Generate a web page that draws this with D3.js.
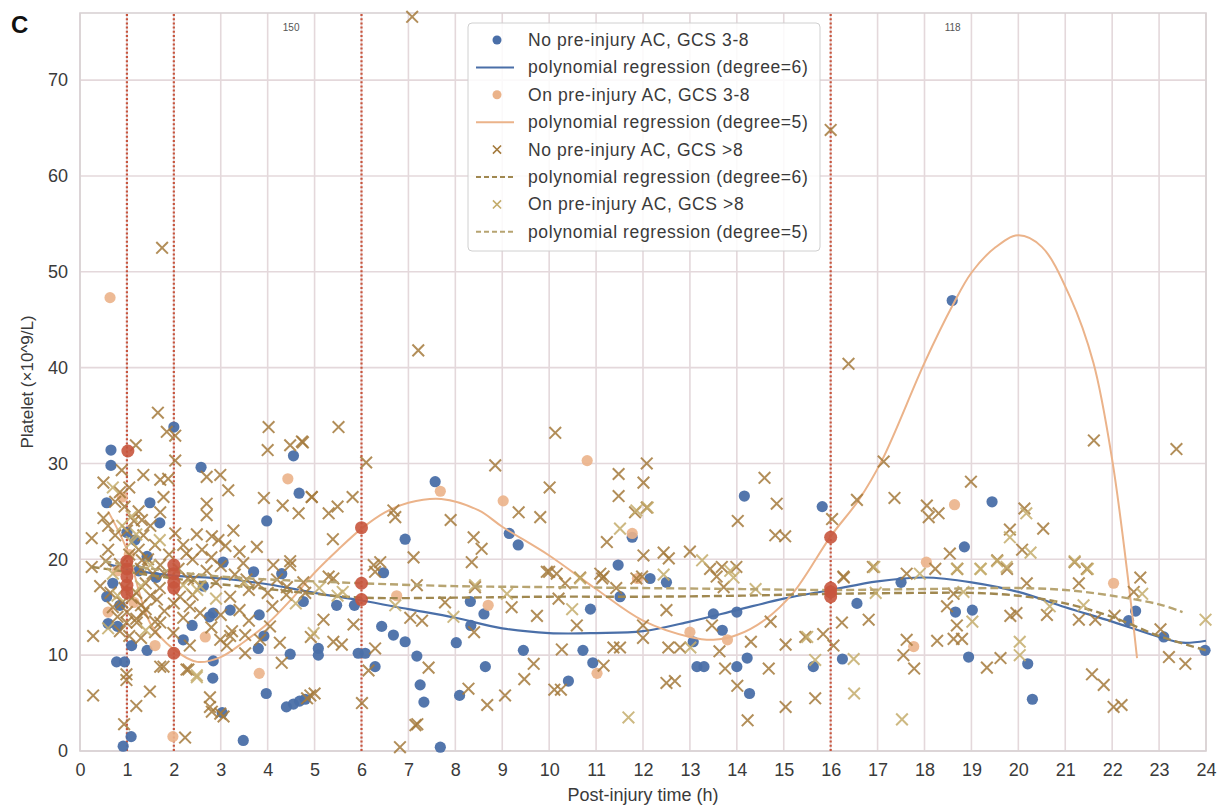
<!DOCTYPE html>
<html>
<head>
<meta charset="utf-8">
<script src="https://cdn.jsdelivr.net/npm/d3@7"></script>
<style>
  body { margin: 0; background: #fff; }
  svg { font-family: "Liberation Sans", Arial, sans-serif; }
</style>
</head>
<body>
<div id="chart"></div>
<script>
// --- data ---
const xTicks = d3.range(0, 25);
const yTicks = [0, 10, 20, 30, 40, 50, 60, 70];
const markerHours = [1, 2, 6, 16];
const countLabels = [{ x: 4.5, text: '150' }, { x: 18.6, text: '118' }];

const legendLabels = [
  'No pre-injury AC, GCS 3-8',
  'polynomial regression (degree=6)',
  'On pre-injury AC, GCS 3-8',
  'polynomial regression (degree=5)',
  'No pre-injury AC, GCS >8',
  'polynomial regression (degree=6)',
  'On pre-injury AC, GCS >8',
  'polynomial regression (degree=5)'
];

// No pre-injury AC, GCS 3-8
const noAcSevere = [
  [0.66,31.4],[0.66,29.8],[0.57,25.9],[1.49,25.9],[2.0,33.8],[2.58,29.6],[4.55,30.8],[4.67,26.9],[3.98,24.0],
  [0.57,16.1],[0.6,13.3],[0.8,13.0],[0.78,9.3],[0.95,9.3],[1.1,11.0],[1.43,10.5],[1.09,1.5],[0.92,0.5],
  [1.62,18.1],[1.43,20.3],[1.17,22.0],[1.7,23.8],[1.0,22.8],[0.7,17.5],[0.85,15.2],[1.25,18.8],
  [2.63,17.2],[3.05,19.7],[2.84,14.4],[2.76,14.0],[3.2,14.7],[2.39,13.1],[2.2,11.6],[2.84,9.4],[2.83,7.6],
  [3.03,4.0],[3.48,1.1],[3.7,18.7],[4.3,18.5],[3.82,14.2],[3.92,12.0],[3.8,10.7],[3.97,6.0],[4.48,10.1],
  [4.4,4.6],[4.55,4.9],[4.68,5.2],[4.8,5.4],[5.08,10.7],[5.08,10.0],[5.47,15.2],[5.85,15.2],[5.93,10.2],
  [6.08,10.2],[6.29,8.8],[6.43,13.0],[6.68,12.1],[6.93,11.4],[6.47,18.6],[4.76,15.6],[7.18,9.9],[7.25,6.9],
  [7.33,5.1],[7.68,0.4],[8.02,11.3],[8.09,5.8],[8.32,15.6],[8.33,13.1],[8.61,14.3],[8.64,8.8],[9.45,10.5],
  [10.41,7.3],[10.72,10.5],[10.88,14.8],[10.93,9.2],[11.47,19.4],[11.51,16.1],[12.15,18.0],[12.5,17.6],
  [13.07,11.4],[13.15,8.8],[13.3,8.8],[13.5,14.3],[13.69,12.6],[14.0,14.5],[14.0,8.8],[14.22,9.7],[14.27,6.0],
  [15.63,8.8],[7.57,28.1],[6.93,22.1],[9.15,22.7],[9.34,21.5],[11.77,22.3],[14.16,26.6],[15.82,25.5],
  [18.59,47.0],[19.44,26.0],[18.85,21.3],[17.5,17.6],[16.25,9.6],[16.56,15.4],[18.66,14.5],[19.02,14.7],
  [18.94,9.8],[20.2,9.1],[20.3,5.4],[22.35,13.6],[22.5,14.6],[23.1,11.9],[23.98,10.5]
];

// On pre-injury AC, GCS 3-8
const onAcSevere = [
  [0.64,47.3],[4.43,28.4],[2.67,11.9],[1.6,11.0],[3.82,8.1],[1.98,1.5],[0.6,14.5],[7.68,27.1],[9.02,26.1],
  [10.81,30.3],[11.77,22.7],[11.88,18.0],[6.75,16.2],[8.7,15.2],[11.02,8.1],[13.8,11.6],[13.0,12.4],
  [18.64,25.7],[18.04,19.7],[22.03,17.5],[17.77,10.9],[0.9,26.5],[1.05,20.5],[0.8,18.8],[1.15,15.5]
];

// No pre-injury AC, GCS >8
const noAcMild = [
  [1.66,35.3],[1.85,33.3],[2.03,32.9],[1.19,31.9],[1.35,28.8],[0.5,28.0],[0.89,29.3],[1.71,28.3],[1.88,28.4],
  [2.03,30.3],[2.7,28.6],[2.99,28.8],[3.16,27.2],[2.7,25.8],[2.7,24.6],[4.02,33.8],[4.0,31.4],[4.48,31.9],
  [4.73,32.3],[3.92,26.4],[4.32,25.6],[4.66,24.8],[4.94,26.5],[3.77,21.3],[3.27,23.0],[2.49,22.6],[2.81,22.4],
  [2.95,22.0],[2.03,22.7],[0.25,22.2],[0.5,24.3],[1.32,24.1],[1.71,24.9],[1.78,26.5],[0.25,19.2],[1.32,19.9],
  [1.71,19.4],[2.27,20.6],[3.48,19.6],[3.55,17.9],[4.12,19.4],[4.48,19.8],[4.41,17.1],[4.0,16.5],[2.42,17.9],
  [2.13,16.1],[2.34,15.1],[2.56,14.4],[1.64,15.8],[1.35,14.4],[1.21,13.4],[0.43,17.2],[0.28,12.0],[0.99,13.4],
  [1.71,13.4],[1.99,12.3],[2.34,11.0],[2.99,11.6],[3.2,12.0],[3.52,12.1],[4.05,13.0],[4.26,11.3],[4.3,9.2],
  [3.84,11.6],[3.13,11.0],[1.71,8.8],[2.27,8.5],[2.77,5.6],[2.77,4.6],[2.99,3.9],[0.99,8.0],[0.99,7.4],
  [1.49,6.2],[1.2,4.7],[0.94,2.8],[0.28,5.8],[2.24,1.4],[5.0,6.0],[4.84,5.5],[4.92,11.9],[1.75,52.5],
  [0.6,21.0],[0.75,22.5],[0.85,19.5],[0.95,17.0],[1.0,23.0],[1.05,20.5],[1.15,24.0],[1.2,16.5],[1.25,21.0],
  [1.3,19.0],[1.35,22.5],[1.4,17.5],[1.45,20.0],[1.5,23.5],[1.55,18.5],[1.6,21.5],[0.65,16.5],[0.7,15.0],
  [0.8,14.0],[0.9,15.5],[1.0,14.5],[1.1,16.0],[1.2,13.8],[1.3,15.2],[1.4,14.8],[1.5,16.2],[1.6,13.5],
  [1.7,17.0],[1.8,18.5],[1.9,20.5],[2.1,19.0],[2.2,21.5],[2.3,18.0],[2.4,20.0],[2.6,21.0],[2.7,18.8],
  [2.8,20.2],[2.9,17.6],[3.0,19.3],[3.1,21.4],[3.3,18.4],[3.4,20.8],[3.6,16.8],[0.55,19.8],[0.6,23.5],
  [0.75,26.0],[0.85,27.0],[0.95,25.5],[1.05,27.5],[1.25,25.0],[0.85,12.5],[1.05,12.0],[1.3,11.8],
  [1.6,12.4],[1.8,14.6],[2.0,15.4],[2.2,13.9],[2.4,16.3],[2.8,12.9],[3.0,14.2],[3.2,16.1],[3.4,14.7],
  [3.6,13.6],[3.8,17.4],[4.1,15.1],[4.2,17.9],[4.4,16.3],
  [7.21,41.8],[4.75,32.2],[5.51,33.8],[6.1,30.1],[4.94,26.5],[5.3,24.8],[5.49,25.5],[5.81,26.5],[5.39,22.1],
  [6.68,25.1],[6.72,24.4],[7.9,24.1],[8.85,29.8],[8.39,22.3],[8.56,21.1],[8.35,19.7],[9.35,24.9],[9.81,24.4],
  [10.13,33.2],[10.01,27.5],[9.95,18.7],[10.16,18.5],[10.34,17.5],[11.23,21.8],[11.48,28.9],[11.48,26.6],
  [12.08,30.0],[12.01,28.0],[12.08,25.4],[11.83,24.9],[12.01,20.4],[6.26,19.4],[6.4,19.7],[7.11,20.2],
  [7.18,17.3],[8.42,17.1],[11.13,18.0],[5.4,18.0],[4.76,17.6],
  [14.59,28.5],[14.85,25.8],[14.02,24.0],[14.82,22.5],[15.03,22.4],[16.03,24.2],[12.44,20.7],[12.55,20.1],
  [13.0,20.8],[13.43,19.0],[13.68,19.2],[13.99,19.2],[13.57,18.2],[11.16,18.2],[11.98,18.2],[13.72,17.1],
  [7.04,13.9],[7.29,13.6],[7.43,8.7],[7.19,2.8],[6.82,0.4],[7.78,15.5],[8.28,6.5],[8.68,4.8],[9.06,5.8],
  [8.4,12.4],[9.2,15.0],[9.74,14.1],[9.67,9.1],[9.47,7.5],[10.0,18.7],[10.2,15.9],[10.59,13.1],[10.66,18.1],
  [10.27,10.6],[10.11,6.4],[10.25,6.4],[11.09,18.5],[11.16,8.9],[11.43,17.0],[11.37,10.8],[11.51,10.8],
  [11.86,18.0],[12.0,13.1],[12.0,11.8],[12.5,14.7],[12.54,10.8],[12.79,10.8],[12.5,7.1],[12.68,7.3],
  [13.47,13.1],[13.63,10.4],[13.75,8.6],[14.01,6.8],[14.23,3.2],[14.3,11.4],[14.68,8.6],[14.72,13.5],
  [15.04,11.1],[15.04,4.6],[15.46,11.9],[15.67,5.5],
  [15.84,12.2],[16.06,11.0],[16.24,13.4],[16.28,18.1],[16.81,13.7],[16.9,19.2],[17.55,10.0],[17.62,11.6],
  [17.78,8.6],[17.62,18.5],[18.23,19.0],[18.27,11.5],[18.48,15.1],[18.69,13.1],[18.62,11.7],[18.8,11.7],
  [18.62,16.4],[19.33,8.7],[19.62,9.7],[19.76,19.0],[19.83,14.1],[19.96,14.4],[20.18,17.5],[20.61,14.2],
  [21.46,19.0],[21.29,17.5],[21.29,13.7],[21.64,13.7],[21.57,8.0],[21.82,6.9],[22.03,4.6],[22.2,4.8],
  [22.05,14.1],[22.6,18.1],[22.46,16.6],[23.03,12.7],[23.21,9.8],[23.56,9.1],
  [16.38,40.4],[17.13,30.2],[16.56,26.2],[17.36,26.4],[18.99,28.1],[18.05,25.6],[18.09,24.4],[18.3,24.8],
  [20.13,25.3],[20.53,23.2],[19.82,23.1],[20.08,21.0],[18.54,20.6],[19.55,19.9],[18.7,19.0],[21.2,19.7],
  [21.61,32.4],[23.37,31.5],[16.27,18.2],[16.0,64.8],[7.08,76.6],[6.29,18.7],[5.3,18.2],[4.8,16.5],
  [4.48,19.4],[5.19,13.7],[5.4,11.4],[5.58,11.1],[5.83,13.2],[6.29,10.7],[6.15,8.4],[6.01,5.0],[7.15,2.7],
  [4.91,5.8],[3.24,12.5],[3.52,10.2],[1.78,8.8],[2.31,8.5],[3.06,3.6],[2.81,4.1]
];

// On pre-injury AC, GCS >8
const onAcMild = [
  [0.7,18.5],[0.9,23.5],[1.1,21.8],[1.3,17.2],[1.5,19.4],[1.7,22.0],[0.8,16.2],[1.0,19.2],[1.2,22.6],
  [2.2,17.3],[2.5,16.8],[2.9,15.9],[3.5,17.6],[0.6,12.8],[1.4,12.6],[2.49,7.7],[1.1,24.5],[0.7,27.5],
  [4.6,15.4],[5.1,17.0],[5.6,16.6],[2.56,17.2],[2.49,7.9],[4.98,12.3],[5.49,16.2],[11.69,3.5],[11.51,23.2],
  [12.1,25.4],[11.86,25.1],[13.26,19.9],[13.86,18.8],[13.93,18.1],[12.44,18.4],[10.49,14.8],[10.66,18.0],
  [13.01,10.8],[15.67,9.5],[15.5,11.9],[16.49,9.6],[16.5,6.0],[16.96,16.5],[17.52,3.3],[17.9,18.5],
  [18.69,19.0],[18.83,16.6],[19.02,13.5],[19.19,19.0],[19.55,19.8],[20.03,11.4],[20.03,10.0],[20.67,15.1],
  [21.2,19.8],[21.39,15.2],[21.48,19.0],[22.64,16.4],[23.99,13.7],[19.82,22.3],[20.17,24.8],[20.26,20.7],
  [19.75,19.2],[19.2,19.0],[16.93,19.2],[7.96,14.0],[8.42,17.3],[6.72,15.2],[9.1,16.4],[14.4,16.9]
];

// reference-hour markers (red)
const hourMarkers = [
  [1.02,31.3],[1,19.8],[1,19.0],[1,18.2],[1,17.3],[1,16.5],
  [2,19.4],[2,18.5],[2,17.6],[2,17.0],[2,10.2],
  [6,23.3],[6,17.5],[6,15.8],
  [16,22.3],[16,17.0],[16,16.6],[16,16.1]
];

// regression curves, sampled from the figure
const fitNoAcSevere = [
  [0.6,19.5],[1,19.0],[2,18.3],[3,18.0],[4,17.4],[5,16.5],[6,15.7],[7,14.8],[8,13.9],[9,12.8],[10,12.3],
  [11,12.3],[12,12.5],[13,13.5],[14,14.7],[15,15.9],[16,16.8],[17,17.7],[18,18.1],[19,17.6],[20,16.6],
  [21,15.0],[22,13.5],[23,11.9],[23.5,11.3],[24,11.5]
];
const fitOnAcSevere = [
  [0.6,25.0],[1,21.0],[1.5,13.3],[2,10.6],[2.5,9.3],[3,9.8],[3.5,11.4],[4,13.3],[4.5,15.8],[5,18.6],
  [5.5,21.0],[6,23.2],[6.5,24.9],[7,25.9],[7.7,26.3],[8.5,25.1],[9,23.4],[10,20.4],[11,16.9],[12,13.6],
  [13,11.9],[13.5,11.6],[14,12.1],[14.6,13.7],[15.2,16.5],[16,22.4],[16.6,26.2],[17.1,30.4],[18,40.5],
  [18.6,46.5],[19,49.9],[19.5,52.5],[20,53.8],[20.5,52.6],[21.1,47.4],[21.6,40.5],[22,30.4],[22.35,17.5],
  [22.53,9.7]
];
const fitNoAcMild = [
  [0.25,19.2],[1,18.7],[2,18.0],[3,17.4],[4,16.9],[5,16.4],[6,16.0],[8,16.0],[10,16.1],[12,16.1],
  [14,16.2],[16,16.4],[18,16.5],[19,16.5],[20,16.2],[21,15.4],[22,14.0],[22.5,13.0],[23,12.0],[24,10.5]
];
const fitOnAcMild = [
  [0.5,19.8],[1,19.4],[2,18.7],[3,18.2],[4,17.9],[5,17.7],[6,17.5],[8,17.2],[10,17.1],[12,17.0],[14,16.9],
  [16,16.8],[18,16.9],[20,17.0],[21,16.8],[22,16.2],[23,15.3],[23.5,14.5]
];

// --- drawing ---
const colors = {
  blue: '#4a6fa8',
  orange: '#ebb38a',
  brownX: '#a47a3c',
  khakiX: '#c4ad6c',
  dashA: '#a08850',
  dashB: '#b7a471',
  red: '#c8553d',
  grid: '#e4d8db',
  text: '#3a3a3a'
};

const width = 1225;
const height = 805;
const margin = { top: 13, right: 19, bottom: 54, left: 80 };

const svg = d3.select('#chart')
  .append('svg')
  .attr('width', width)
  .attr('height', height);

const x = d3.scaleLinear()
  .domain([0, 24])
  .range([margin.left, width - margin.right]);

const y = d3.scaleLinear()
  .domain([0, 77])
  .range([height - margin.bottom, margin.top]);

// grid
svg.append('g')
  .selectAll('line')
  .data(xTicks)
  .join('line')
    .attr('x1', d => x(d)).attr('x2', d => x(d))
    .attr('y1', y(0)).attr('y2', y(77))
    .attr('stroke', colors.grid)
    .attr('stroke-width', 1.6);

svg.append('g')
  .selectAll('line')
  .data(yTicks)
  .join('line')
    .attr('x1', x(0)).attr('x2', x(24))
    .attr('y1', d => y(d)).attr('y2', d => y(d))
    .attr('stroke', colors.grid)
    .attr('stroke-width', 1.6);

svg.append('rect')
  .attr('x', x(0)).attr('y', y(77))
  .attr('width', x(24) - x(0)).attr('height', y(0) - y(77))
  .attr('fill', 'none')
  .attr('stroke', '#d9d2d4')
  .attr('stroke-width', 1.6);

// axes (labels only, whitegrid style)
const xAxis = svg.append('g')
  .attr('transform', `translate(0,${y(0)})`)
  .call(d3.axisBottom(x).tickValues(xTicks).tickSize(0).tickPadding(12).tickFormat(d3.format('d')));
const yAxis = svg.append('g')
  .attr('transform', `translate(${x(0)},0)`)
  .call(d3.axisLeft(y).tickValues(yTicks).tickSize(0).tickPadding(12));

[xAxis, yAxis].forEach(g => {
  g.select('.domain').remove();
  g.selectAll('text')
    .attr('fill', colors.text)
    .style('font-size', '18px')
    .style('font-family', '"Liberation Sans", Arial, sans-serif');
});

svg.append('text')
  .attr('x', 643).attr('y', 801)
  .attr('text-anchor', 'middle')
  .attr('fill', colors.text)
  .style('font-size', '18px')
  .text('Post-injury time (h)');

svg.append('text')
  .attr('transform', `translate(33,${(y(0) + y(77)) / 2}) rotate(-90)`)
  .attr('text-anchor', 'middle')
  .attr('fill', colors.text)
  .style('font-size', '17px')
  .text('Platelet (×10^9/L)');

svg.append('text')
  .attr('x', 11).attr('y', 33)
  .attr('fill', '#111')
  .style('font-size', '24px')
  .style('font-weight', 'bold')
  .text('C');

// reference hours
svg.append('g')
  .selectAll('line')
  .data(markerHours)
  .join('line')
    .attr('x1', d => x(d)).attr('x2', d => x(d))
    .attr('y1', y(0)).attr('y2', y(77))
    .attr('stroke', colors.red)
    .attr('stroke-width', 2.2)
    .attr('stroke-dasharray', '2 2.2');

svg.append('g')
  .selectAll('text')
  .data(countLabels)
  .join('text')
    .attr('x', d => x(d.x))
    .attr('y', 31)
    .attr('text-anchor', 'middle')
    .attr('fill', '#555')
    .style('font-size', '10px')
    .text(d => d.text);

const line = d3.line()
  .x(d => x(d[0]))
  .y(d => y(d[1]))
  .curve(d3.curveCatmullRom.alpha(0.5));

const xSymbol = d3.symbol(d3.symbolX, 90);

const drawCircles = (data, color, opacity) => {
  svg.append('g')
    .selectAll('circle')
    .data(data)
    .join('circle')
      .attr('cx', d => x(d[0]))
      .attr('cy', d => y(d[1]))
      .attr('r', 5.6)
      .attr('fill', color)
      .attr('fill-opacity', opacity);
};

const drawCrosses = (data, color, opacity) => {
  svg.append('g')
    .selectAll('path')
    .data(data)
    .join('path')
      .attr('transform', d => `translate(${x(d[0])},${y(d[1])})`)
      .attr('d', xSymbol)
      .attr('fill', 'none')
      .attr('stroke', color)
      .attr('stroke-width', 2)
      .attr('stroke-opacity', opacity);
};

const drawCurve = (data, color, dash, widthPx) => {
  svg.append('path')
    .datum(data)
    .attr('d', line)
    .attr('fill', 'none')
    .attr('stroke', color)
    .attr('stroke-width', widthPx)
    .attr('stroke-dasharray', dash);
};

drawCircles(noAcSevere, colors.blue, 0.95);
drawCurve(fitNoAcSevere, colors.blue, null, 2.2);
drawCircles(onAcSevere, colors.orange, 0.9);
drawCurve(fitOnAcSevere, colors.orange, null, 2);
drawCrosses(noAcMild, colors.brownX, 0.85);
drawCurve(fitNoAcMild, colors.dashA, '8 4', 2.4);
drawCrosses(onAcMild, colors.khakiX, 0.85);
drawCurve(fitOnAcMild, colors.dashB, '8 4', 2.4);

svg.append('g')
  .selectAll('circle')
  .data(hourMarkers)
  .join('circle')
    .attr('cx', d => x(d[0]))
    .attr('cy', d => y(d[1]))
    .attr('r', 6.5)
    .attr('fill', colors.red)
    .attr('fill-opacity', 0.9);

// legend
const legend = svg.append('g').attr('transform', 'translate(468,23)');
legend.append('rect')
  .attr('width', 352).attr('height', 228)
  .attr('rx', 4)
  .attr('fill', '#fff').attr('fill-opacity', 0.85)
  .attr('stroke', '#d0d0d0');

const rowY = i => 17 + i * 27.4;
const legendKinds = [
  { type: 'dot', color: colors.blue },
  { type: 'line', color: colors.blue, dash: null },
  { type: 'dot', color: colors.orange },
  { type: 'line', color: colors.orange, dash: null },
  { type: 'x', color: colors.brownX },
  { type: 'line', color: colors.dashA, dash: '5 3' },
  { type: 'x', color: colors.khakiX },
  { type: 'line', color: colors.dashB, dash: '5 3' }
];

legendKinds.forEach((k, i) => {
  const cy = rowY(i);
  if (k.type === 'dot') {
    legend.append('circle').attr('cx', 29).attr('cy', cy).attr('r', 4.5).attr('fill', k.color);
  } else if (k.type === 'x') {
    legend.append('path')
      .attr('transform', `translate(29,${cy})`)
      .attr('d', d3.symbol(d3.symbolX, 45))
      .attr('fill', 'none').attr('stroke', k.color).attr('stroke-width', 1.6);
  } else {
    legend.append('line')
      .attr('x1', 8).attr('x2', 46).attr('y1', cy).attr('y2', cy)
      .attr('stroke', k.color).attr('stroke-width', 2)
      .attr('stroke-dasharray', k.dash);
  }
  legend.append('text')
    .attr('x', 60).attr('y', cy + 6)
    .attr('fill', colors.text)
    .style('font-size', '17.5px')
    .style('letter-spacing', '0.6px')
    .text(legendLabels[i]);
});
</script>
</body>
</html>
